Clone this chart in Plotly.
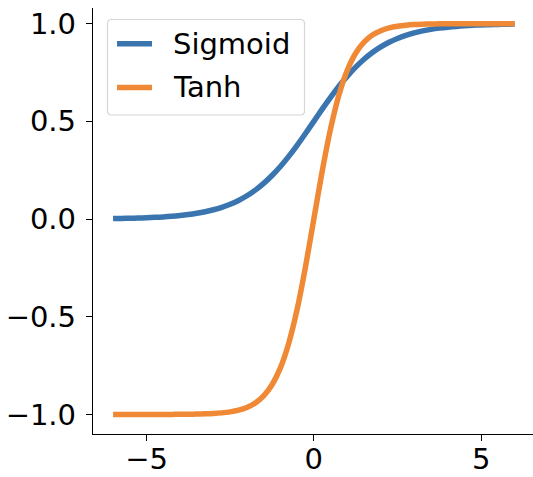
import plotly.graph_objects as go

# ---- data ----
x_vals = [-6.0, -5.75, -5.5, -5.25, -5.0, -4.75, -4.5, -4.25, -4.0, -3.75, -3.5, -3.25,
          -3.0, -2.75, -2.5, -2.25, -2.0, -1.75, -1.5, -1.25, -1.0, -0.75, -0.5, -0.25,
          0.0, 0.25, 0.5, 0.75, 1.0, 1.25, 1.5, 1.75, 2.0, 2.25, 2.5, 2.75,
          3.0, 3.25, 3.5, 3.75, 4.0, 4.25, 4.5, 4.75, 5.0, 5.25, 5.5, 5.75, 6.0]

sigmoid_vals = [0.0025, 0.0032, 0.0041, 0.0052, 0.0067, 0.0086, 0.0110, 0.0141, 0.0180,
                0.0230, 0.0293, 0.0373, 0.0474, 0.0601, 0.0759, 0.0953, 0.1192, 0.1480,
                0.1824, 0.2227, 0.2689, 0.3208, 0.3775, 0.4378, 0.5000, 0.5622, 0.6225,
                0.6792, 0.7311, 0.7773, 0.8176, 0.8520, 0.8808, 0.9047, 0.9241, 0.9399,
                0.9526, 0.9627, 0.9707, 0.9770, 0.9820, 0.9859, 0.9890, 0.9914, 0.9933,
                0.9948, 0.9959, 0.9968, 0.9975]

tanh_vals = [-1.0000, -1.0000, -1.0000, -0.9999, -0.9999, -0.9998, -0.9998, -0.9996, -0.9993,
             -0.9989, -0.9982, -0.9970, -0.9951, -0.9919, -0.9866, -0.9780, -0.9640, -0.9414,
             -0.9051, -0.8483, -0.7616, -0.6351, -0.4621, -0.2449, 0.0000, 0.2449, 0.4621,
             0.6351, 0.7616, 0.8483, 0.9051, 0.9414, 0.9640, 0.9780, 0.9866, 0.9919,
             0.9951, 0.9970, 0.9982, 0.9989, 0.9993, 0.9996, 0.9998, 0.9998, 0.9999,
             0.9999, 1.0000, 1.0000, 1.0000]

series_names = ["Sigmoid", "Tanh"]
series_colors = ["#3a75b0", "#f08935"]

x_ticks = [-5, 0, 5]
y_ticks = [-1.0, -0.5, 0.0, 0.5, 1.0]

# ---- figure ----
W, H = 533, 477
ML, MR, MT, MB = 93, 0, 8, 43
PW, PH = W - ML - MR, H - MT - MB
FONT = "DejaVu Sans"
FS = 29

fig = go.Figure()
for name, ys, col in zip(series_names, [sigmoid_vals, tanh_vals], series_colors):
    fig.add_trace(go.Scatter(x=x_vals, y=ys, mode="lines", name=name,
                             line=dict(color=col, width=5.5, shape="spline", smoothing=0.8),
                             showlegend=False))

def px_x(p):
    return (p - ML) / PW

def px_y(p):
    return 1 - (p - MT) / PH

# manual legend (matplotlib style)
bx0, bx1, by0, by1, r = 107.5, 304.5, 19.5, 115, 4
rx, ry = r / PW, r / PH
X0, X1, Y0, Y1 = px_x(bx0), px_x(bx1), px_y(by0), px_y(by1)
path = (f"M{X0+rx},{Y0} L{X1-rx},{Y0} Q{X1},{Y0} {X1},{Y0-ry} "
        f"L{X1},{Y1+ry} Q{X1},{Y1} {X1-rx},{Y1} "
        f"L{X0+rx},{Y1} Q{X0},{Y1} {X0},{Y1+ry} "
        f"L{X0},{Y0-ry} Q{X0},{Y0} {X0+rx},{Y0} Z")
fig.add_shape(type="path", path=path, xref="paper", yref="paper",
              line=dict(color="#d6d6d6", width=1.2), fillcolor="rgba(255,255,255,0.85)")

rows_y = [43.8, 87.5]
for name, col, ry_ in zip(series_names, series_colors, rows_y):
    fig.add_shape(type="line", xref="paper", yref="paper",
                  x0=px_x(117), x1=px_x(152), y0=px_y(ry_), y1=px_y(ry_),
                  line=dict(color=col, width=5.5))
    fig.add_annotation(text=name, xref="paper", yref="paper",
                       x=px_x(170.5), y=px_y(ry_), xanchor="left", yanchor="middle",
                       showarrow=False, font=dict(family=FONT, size=FS, color="black"))

axis_common = dict(showgrid=False, zeroline=False, showline=True, linecolor="black",
                   linewidth=1.3, ticks="outside", ticklen=6, tickwidth=1.3,
                   tickcolor="black", tickfont=dict(family=FONT, size=FS, color="black"),
                   mirror=False, automargin=False)

fig.update_xaxes(range=[-6.6, 6.55], tickvals=x_ticks,
                 ticktext=[f"{v}".replace("-", "\u2212") for v in x_ticks],
                 ticklabelstandoff=-7, **axis_common)
fig.update_yaxes(range=[-1.1, 1.08], tickvals=y_ticks,
                 ticktext=[f"{v:.1f}".replace("-", "\u2212") for v in y_ticks],
                 ticklabelstandoff=4, **axis_common)

fig.update_layout(width=W, height=H, margin=dict(l=ML, r=MR, t=MT, b=MB),
                  paper_bgcolor="white", plot_bgcolor="white",
                  font=dict(family=FONT, size=FS, color="black"))

fig.write_html("out.html")
